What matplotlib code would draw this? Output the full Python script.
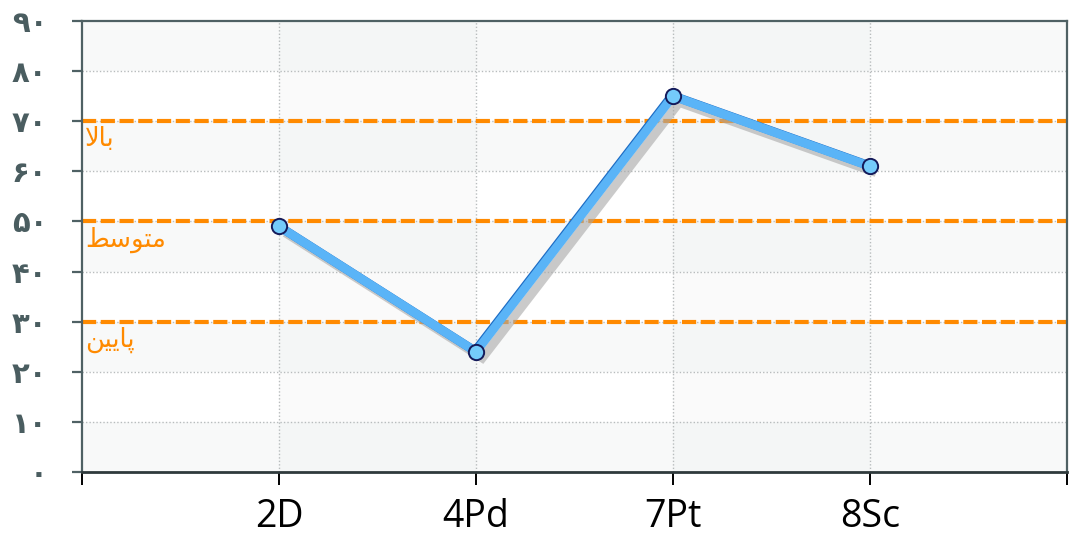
import matplotlib
matplotlib.use("Agg")
import matplotlib.pyplot as plt
import matplotlib.patheffects as pe
import numpy as np

# Data
categories = ["2D", "4Pd", "7Pt", "8Sc"]
values = [49, 24, 75, 61]
y_ticks = [0, 10, 20, 30, 40, 50, 60, 70, 80, 90]
y_tick_labels = ["۰", "۱۰", "۲۰", "۳۰", "۴۰", "۵۰", "۶۰", "۷۰", "۸۰", "۹۰"]
# reference levels: value, label (presentation forms in visual order)
level_values = [70, 50, 30]
level_labels = ["\uFEFB\uFE8E\uFE91",                    # بالا
                "\uFEC2\uFEB3\uFEEE\uFE98\uFEE3",        # متوسط
                "\uFEE6\uFBFF\uFBFE\uFE8E\uFB58"]        # پایین

DPI = 100
fig = plt.figure(figsize=(10.81, 5.41), dpi=DPI)
ax = fig.add_axes([82 / 1081, 1 - 472 / 541, (1067 - 82) / 1081, (472 - 21) / 541])

x = np.arange(1, len(categories) + 1)
ax.set_xlim(0, len(categories) + 1)
ax.set_ylim(0, 90)

# alternating background bands
ax.set_facecolor("white")
for lo in range(0, 90, 20):
    ax.axhspan(lo, lo + 10, color="#f8f9f9", zorder=0, lw=0)
for c in (1, 3):
    ax.axvspan(c, c + 1, color="#e6eaea", alpha=0.2, zorder=0, lw=0)

# dotted grid
ax.set_yticks(y_ticks)
ax.set_xticks(np.arange(0, len(categories) + 2))
for yv in y_ticks[1:-1]:
    ax.axhline(yv, color="#b8bcbd", lw=1, ls=(0, (1, 1.5)), zorder=1)
for xv in x:
    ax.axvline(xv, color="#b8bcbd", lw=1, ls=(0, (1, 1.5)), zorder=1)

# reference levels
for val, lab in zip(level_values, level_labels):
    ax.axhline(val, color="#ff8a00", lw=3.0, ls=(0, (3.4, 1.1)), zorder=2)
    ax.text(0.015, val - 1.0, lab, color="#ff8a00", fontsize=18.5,
            family=["DejaVu Sans"], ha="left", va="top", zorder=3)

# series with drop shadow and a thin darker edge
ax.plot(x, values, color="#5ab4f7", lw=6.4, solid_capstyle="butt",
        solid_joinstyle="miter", zorder=4,
        path_effects=[pe.SimpleLineShadow(offset=(4.5, -4.5), shadow_color="#a8a8a8", alpha=0.6),
                      pe.Stroke(linewidth=6.4, foreground="#1d6cc4", offset=(-0.7, 0.5)),
                      pe.Normal()])
ax.plot(x, values, ls="none", marker="o", ms=11, mfc="#74cbfa", mec="#141a5a",
        mew=1.4, zorder=6)

# axes styling
for s in ["left", "top", "right"]:
    ax.spines[s].set_color("#4f6164")
    ax.spines[s].set_linewidth(1.6)
ax.spines["bottom"].set_color("#2f3a3c")
ax.spines["bottom"].set_linewidth(2)

ax.set_yticklabels(y_tick_labels, family=["DejaVu Sans"], fontweight="bold",
                   fontsize=21, color="#4a5d60")
ax.tick_params(axis="y", length=7, width=1.6, color="#4f6164", pad=18)
ax.set_xticklabels([""] + categories + [""], family=["Open Sans"], fontsize=27,
                   color="black")
ax.tick_params(axis="x", length=9, width=1.4, color="black", pad=10)

fig.savefig("out.png", dpi=DPI)
